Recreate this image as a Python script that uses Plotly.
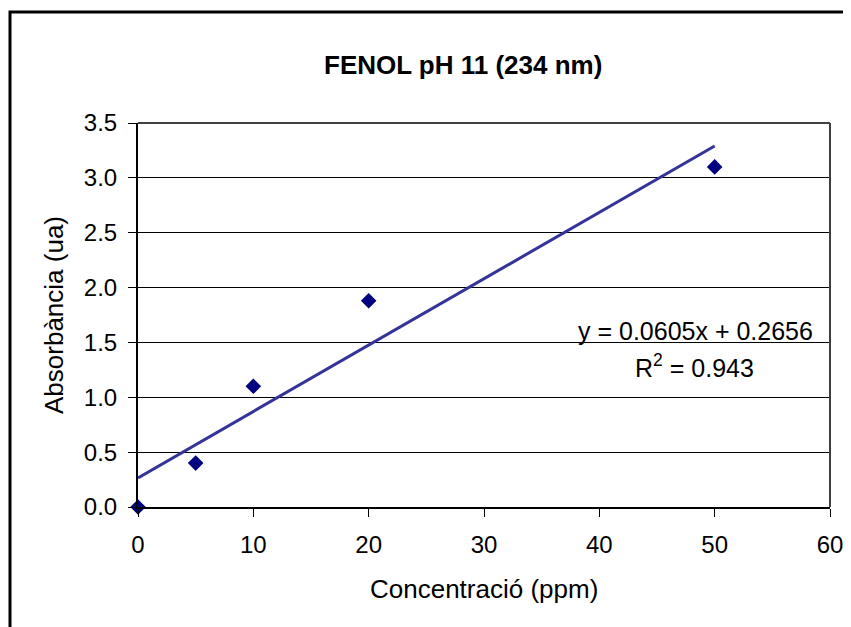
import plotly.graph_objects as go

# Data
conc_ppm = [0, 5, 10, 20, 50]
absorbance = [0.0, 0.40, 1.10, 1.88, 3.10]
slope = 0.0605
intercept = 0.2656
r_squared = 0.943
trend_x = [0, 50]
trend_y = [slope * x + intercept for x in trend_x]

title_text = "FENOL pH 11 (234 nm)"
x_title = "Concentració (ppm)"
y_title = "Absorbància (ua)"
eq_text = "y = 0.0605x + 0.2656"
r2_text = "R<sup>2</sup> = 0.943"

FONT = "Liberation Sans, Arial, sans-serif"

OFF = 8  # page body margin offset
W, H = 851, 627
# target screen coordinates of plot area
SL, SR, ST, SB = 138, 830, 123, 507
L, T = SL - OFF, ST - OFF
R = W - (SR - OFF)
B = H - (SB - OFF)
PW, PH = W - L - R, H - T - B

def px_x(p):
    return (p - OFF - L) / PW

def px_y(p):
    return (H - B - (p - OFF)) / PH

fig = go.Figure()
fig.add_trace(go.Scatter(
    x=trend_x, y=trend_y, mode="lines",
    line=dict(color="#333399", width=3), showlegend=False, hoverinfo="skip"))
fig.add_trace(go.Scatter(
    x=conc_ppm, y=absorbance, mode="markers",
    marker=dict(symbol="diamond", size=12, color="#000080"),
    showlegend=False, cliponaxis=False))

fig.update_layout(
    width=W, height=H,
    margin=dict(l=L, r=R, t=T, b=B, autoexpand=False),
    paper_bgcolor="white", plot_bgcolor="white",
    font=dict(family=FONT, size=24, color="black"),
    showlegend=False,
)
fig.update_xaxes(
    range=[0, 60], tickmode="array", tickvals=[0, 10, 20, 30, 40, 50, 60],
    ticks="outside", ticklen=8, tickcolor="black", tickwidth=1,
    showline=True, linecolor="black", linewidth=2,
    showgrid=False, zeroline=False,
    tickfont=dict(size=24), ticklabelstandoff=7,
)
fig.update_yaxes(
    range=[0, 3.5], tickmode="array", tickvals=[0, 0.5, 1.0, 1.5, 2.0, 2.5, 3.0, 3.5],
    tickformat=".1f",
    ticks="outside", ticklen=8, tickcolor="black", tickwidth=1,
    showline=True, linecolor="black", linewidth=2,
    showgrid=True, gridcolor="black", gridwidth=1, zeroline=False,
    tickfont=dict(size=24), ticklabelstandoff=6,
)

shapes = [
    # plot area border (right / top)
    dict(type="line", xref="paper", yref="paper", x0=1, x1=1, y0=0, y1=1,
         line=dict(color="#404040", width=2)),
    dict(type="line", xref="paper", yref="paper", x0=0, x1=1, y0=1, y1=1,
         line=dict(color="#404040", width=2)),
    # outer chart border
    dict(type="rect", xref="paper", yref="paper",
         x0=px_x(10), x1=px_x(W + 30), y0=px_y(12), y1=px_y(H + 30),
         line=dict(color="black", width=3), fillcolor="rgba(0,0,0,0)", layer="above"),
]
fig.update_layout(shapes=shapes)

annotations = [
    dict(text="<b>" + title_text + "</b>", x=px_x(463), y=px_y(65), xref="paper", yref="paper",
         showarrow=False, xanchor="center", yanchor="middle", font=dict(size=26)),
    dict(text=x_title, x=px_x(484), y=px_y(589), xref="paper", yref="paper",
         showarrow=False, xanchor="center", yanchor="middle", font=dict(size=26)),
    dict(text=y_title, x=px_x(54), y=px_y(315), xref="paper", yref="paper",
         showarrow=False, xanchor="center", yanchor="middle", textangle=-90, font=dict(size=26)),
    dict(text=eq_text, x=px_x(695), y=px_y(331), xref="paper", yref="paper",
         showarrow=False, xanchor="center", yanchor="middle", font=dict(size=25)),
    dict(text=r2_text, x=px_x(694), y=px_y(366), xref="paper", yref="paper",
         showarrow=False, xanchor="center", yanchor="middle", font=dict(size=25)),
]
fig.update_layout(annotations=annotations)

fig.write_html("out.html")
